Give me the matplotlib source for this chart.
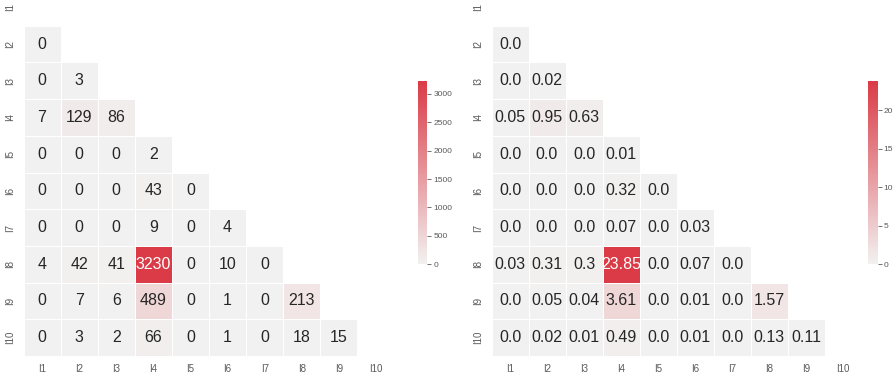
import numpy as np
import matplotlib
matplotlib.use("Agg")
import matplotlib.pyplot as plt
import seaborn as sns

labels = ["I1", "I2", "I3", "I4", "I5", "I6", "I7", "I8", "I9", "I10"]

counts_rows = [
    [],
    [0],
    [0, 3],
    [7, 129, 86],
    [0, 0, 0, 2],
    [0, 0, 0, 43, 0],
    [0, 0, 0, 9, 0, 4],
    [4, 42, 41, 3230, 0, 10, 0],
    [0, 7, 6, 489, 0, 1, 0, 213],
    [0, 3, 2, 66, 0, 1, 0, 18, 15],
]

pct_rows = [
    [],
    [0.0],
    [0.0, 0.02],
    [0.05, 0.95, 0.63],
    [0.0, 0.0, 0.0, 0.01],
    [0.0, 0.0, 0.0, 0.32, 0.0],
    [0.0, 0.0, 0.0, 0.07, 0.0, 0.03],
    [0.03, 0.31, 0.3, 23.85, 0.0, 0.07, 0.0],
    [0.0, 0.05, 0.04, 3.61, 0.0, 0.01, 0.0, 1.57],
    [0.0, 0.02, 0.01, 0.49, 0.0, 0.01, 0.0, 0.13, 0.11],
]

sns.set_theme(style="white")
plt.rcParams['font.family'] = ['Liberation Sans', 'DejaVu Sans']

def build(rows):
    n = len(labels)
    m = np.zeros((n, n))
    for i, r in enumerate(rows):
        for j, v in enumerate(r):
            m[i, j] = v
    return m

W, H = 896, 376
fig = plt.figure(figsize=(W / 100, H / 100), dpi=100)

def px_axes(x0, y0, x1, y1):
    return fig.add_axes([x0 / W, 1 - y1 / H, (x1 - x0) / W, (y1 - y0) / H])

mask = np.triu(np.ones((10, 10), dtype=bool))
cmap = sns.diverging_palette(220, 10, as_cmap=True)

panels = [
    (counts_rows, lambda v: str(int(v)), 23.5, 394.5, 417.5, 427.0),
    (pct_rows, lambda v: str(round(v, 2)), 491.5, 861.5, 868.0, 877.5),
]
top, bottom = -11.0, 356.0
for rows, fmt, x0, x1, cx0, cx1 in panels:
    data = build(rows)
    annot = np.array([[fmt(data[i, j]) for j in range(10)] for i in range(10)])
    ax = px_axes(x0, top, x1, bottom)
    h = bottom - top
    cax = px_axes(cx0, top + h * 0.25, cx1, top + h * 0.75)
    sns.heatmap(data, mask=mask, cmap=cmap, center=0, vmin=0, vmax=data.max(),
                annot=annot, fmt="", annot_kws={"fontsize": 11.5},
                linewidths=0.6, linecolor="white", ax=ax, cbar_ax=cax,
                xticklabels=labels, yticklabels=labels)
    ax.tick_params(axis="both", length=0, labelsize=7, colors="0.35", pad=6)
    for t in ax.get_yticklabels():
        t.set_rotation(90)
        t.set_va("center")
    for t in ax.get_xticklabels():
        t.set_rotation(0)
    cax.tick_params(length=3, width=0.6, labelsize=6, colors="0.35", pad=1.5)
    for s in cax.spines.values():
        s.set_visible(False)

fig.savefig("out.png", dpi=100)
